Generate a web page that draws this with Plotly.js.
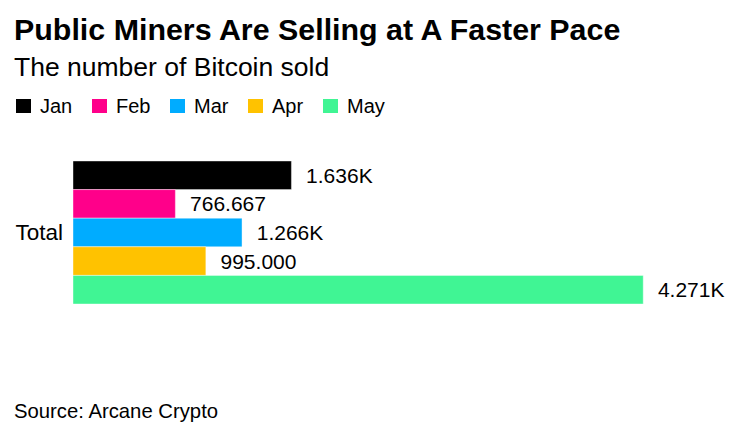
<!DOCTYPE html>
<html>
<head>
<meta charset="utf-8">
<script src="https://cdn.plot.ly/plotly-3.0.1.min.js"></script>
<style>html,body{margin:0;padding:0;background:#fff;}#chart{width:751px;height:433px;}</style>
</head>
<body>
<div id="chart"></div>
<script>
const categories = ["Total"];
const months = ["Jan", "Feb", "Mar", "Apr", "May"];
const soldJan = [1636];
const soldFeb = [766.667];
const soldMar = [1266];
const soldApr = [995];
const soldMay = [4271];
const colors = ["#000000", "#FF008A", "#00ACFF", "#FFC200", "#40F594"];

const series = [soldJan, soldFeb, soldMar, soldApr, soldMay];
function fmt(v) {
  return v >= 1000 ? (v / 1000).toFixed(3) + "K" : v.toFixed(3);
}
const FONT = "Liberation Sans, Arial, Helvetica, sans-serif";

const W = 751, H = 433;
const mL = 73, mR = 31, mT = 140, mB = 108;
const pw = W - mL - mR, ph = H - mT - mB;
function px(x) { return (x - mL) / pw; }
function py(y) { return (H - mB - y) / ph; }

const traces = series.map((vals, i) => ({
  type: "bar",
  orientation: "h",
  name: months[i],
  y: categories,
  x: vals,
  text: vals.map(v => "  " + fmt(v)),
  textposition: "outside",
  cliponaxis: false,
  textfont: {family: FONT, size: 21, color: "#000"},
  marker: {color: colors[i], line: {color: "rgba(255,255,255,0.4)", width: 1}},
  hoverinfo: "skip"
}));

// manual legend (layout positions)
const legendX = [16, 92, 170, 248, 323];
const shapes = [];
const annotations = [
  {text: "<b>Public Miners Are Selling at A Faster Pace</b>", xref: "paper", yref: "paper",
   x: px(12), y: py(29), xanchor: "left", yanchor: "middle", showarrow: false,
   font: {family: FONT, size: 30.4, color: "#000"}},
  {text: "The number of Bitcoin sold", xref: "paper", yref: "paper",
   x: px(12), y: py(66.5), xanchor: "left", yanchor: "middle", showarrow: false,
   font: {family: FONT, size: 26.5, color: "#000"}},
  {text: "Source: Arcane Crypto", xref: "paper", yref: "paper",
   x: px(12), y: py(411), xanchor: "left", yanchor: "middle", showarrow: false,
   font: {family: FONT, size: 20.3, color: "#000"}}
];
months.forEach((m, i) => {
  const lx = legendX[i];
  shapes.push({type: "rect", xref: "paper", yref: "paper",
    x0: px(lx), x1: px(lx + 15), y0: py(113), y1: py(99),
    fillcolor: colors[i], line: {width: 0}});
  annotations.push({text: m, xref: "paper", yref: "paper",
    x: px(lx + 22), y: py(106), xanchor: "left", yanchor: "middle", showarrow: false,
    font: {family: FONT, size: 20, color: "#000"}});
});

const layout = {
  width: W, height: H,
  margin: {l: mL, r: mR, t: mT, b: mB},
  paper_bgcolor: "#fff",
  plot_bgcolor: "#fff",
  barmode: "group",
  bargap: 0.227,
  bargroupgap: 0,
  font: {family: FONT, color: "#000"},
  showlegend: false,
  xaxis: {
    range: [0, 4846],
    visible: false,
    fixedrange: true
  },
  yaxis: {
    type: "category",
    autorange: "reversed",
    showgrid: false,
    zeroline: false,
    showline: false,
    ticks: "",
    ticklen: 0,
    ticklabelstandoff: 9,
    tickfont: {family: FONT, size: 22.5, color: "#000"},
    fixedrange: true
  },
  shapes: shapes,
  annotations: annotations
};

Plotly.newPlot("chart", traces, layout, {displayModeBar: false, staticPlot: true});
</script>
</body>
</html>
